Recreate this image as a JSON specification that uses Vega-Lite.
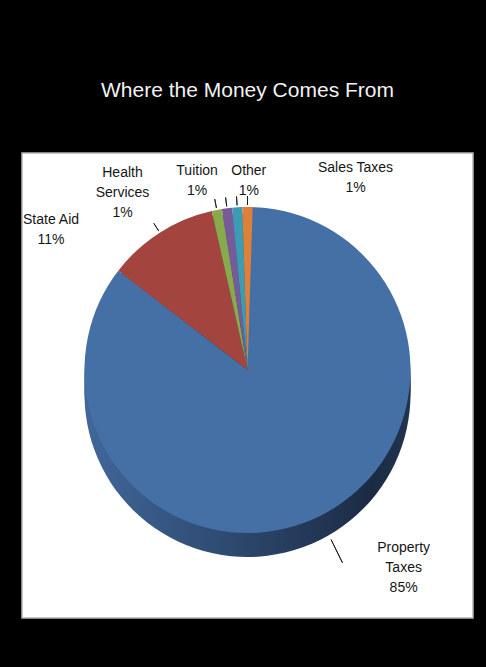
{
  "$schema": "https://vega.github.io/schema/vega-lite/v6.json",
  "width": 451,
  "height": 465,
  "autosize": "none",
  "padding": {"left": 22, "top": 153, "right": 13, "bottom": 49},
  "background": "#000000",
  "view": {"fill": "#ffffff", "stroke": "#b4b4b4", "strokeWidth": 1.5},
  "config": {
    "view": {"fill": "#ffffff", "stroke": "#b4b4b4", "strokeWidth": 1.5},
    "text": {"font": "Liberation Sans Narrow, Liberation Sans, Arial", "fontSize": 14, "lineHeight": 20, "color": "#161616"}
  },
  "title": {
    "text": "Where the Money Comes From",
    "color": "#f2f2f2",
    "font": "Liberation Sans",
    "fontSize": 21,
    "fontWeight": "normal",
    "anchor": "middle",
    "baseline": "alphabetic",
    "offset": 35
  },
  "data": {
    "values": [
      {"category": "Property Taxes", "value": 85},
      {"category": "State Aid", "value": 11},
      {"category": "Health Services", "value": 1},
      {"category": "Tuition", "value": 1},
      {"category": "Other", "value": 1},
      {"category": "Sales Taxes", "value": 1}
    ]
  },
  "transform": [
    {"window": [{"op": "row_number", "as": "idx"}]},
    {"stack": "value", "groupby": [], "sort": [{"field": "idx", "order": "ascending"}], "as": ["s0", "s1"]},
    {"calculate": "(datum.s0 + datum.s1) / 2", "as": "mid"},
    {"calculate": "datum.category + '|' + datum.value + '%'", "as": "lab"},
    {"calculate": "replace(datum.category, ' ', '|') + '|' + datum.value + '%'", "as": "lab2"}
  ],
  "layer": [
    {
      "mark": {"type": "arc", "radius": 163, "y": {"expr": "height * 0.4667"}, "yOffset": 24,
        "color": {"gradient": "linear", "x1": 0, "y1": 0, "x2": 1, "y2": 0, "stops": [{"offset": 0, "color": "#41679A"}, {"offset": 0.5, "color": "#2B466A"}, {"offset": 0.88, "color": "#1C2B44"}, {"offset": 1, "color": "#21344F"}]}},
      "encoding": {"theta": {"field": "s0", "type": "quantitative"}, "theta2": {"field": "s1"}}
    },
    {
      "mark": {"type": "arc", "radius": 163, "y": {"expr": "height * 0.4667"}, "yOffset": 18,
        "color": {"gradient": "linear", "x1": 0, "y1": 0, "x2": 1, "y2": 0, "stops": [{"offset": 0, "color": "#41679A"}, {"offset": 0.5, "color": "#2B466A"}, {"offset": 0.88, "color": "#1C2B44"}, {"offset": 1, "color": "#21344F"}]}},
      "encoding": {"theta": {"field": "s0", "type": "quantitative"}, "theta2": {"field": "s1"}}
    },
    {
      "mark": {"type": "arc", "radius": 163, "y": {"expr": "height * 0.4667"}, "yOffset": 12,
        "color": {"gradient": "linear", "x1": 0, "y1": 0, "x2": 1, "y2": 0, "stops": [{"offset": 0, "color": "#41679A"}, {"offset": 0.5, "color": "#2B466A"}, {"offset": 0.88, "color": "#1C2B44"}, {"offset": 1, "color": "#21344F"}]}},
      "encoding": {"theta": {"field": "s0", "type": "quantitative"}, "theta2": {"field": "s1"}}
    },
    {
      "mark": {"type": "arc", "radius": 163, "y": {"expr": "height * 0.4667"}, "yOffset": 6,
        "color": {"gradient": "linear", "x1": 0, "y1": 0, "x2": 1, "y2": 0, "stops": [{"offset": 0, "color": "#41679A"}, {"offset": 0.5, "color": "#2B466A"}, {"offset": 0.88, "color": "#1C2B44"}, {"offset": 1, "color": "#21344F"}]}},
      "encoding": {"theta": {"field": "s0", "type": "quantitative"}, "theta2": {"field": "s1"}}
    },
    {
      "mark": {"type": "arc", "radius": 163, "y": {"expr": "height * 0.4667"}},
      "encoding": {
        "theta": {"field": "s0", "type": "quantitative"},
        "theta2": {"field": "s1"},
        "color": {
          "field": "category",
          "type": "nominal",
          "scale": {
            "domain": ["Property Taxes", "State Aid", "Health Services", "Tuition", "Other", "Sales Taxes"],
            "range": ["#4570A6", "#A4443F", "#88AA4A", "#775A9A", "#3D9BB3", "#DE8038"]
          },
          "legend": null
        }
      }
    },
    {
      "transform": [{"filter": "datum.category != 'Property Taxes'"}],
      "mark": {"type": "arc", "y": {"expr": "height * 0.4667"}, "radius": 165, "radius2": 174, "stroke": "#1a1a1a", "strokeWidth": 0.9, "fillOpacity": 0},
      "encoding": {"theta": {"field": "mid", "type": "quantitative"}, "theta2": {"field": "mid"}}
    },
    {
      "transform": [{"filter": "datum.category == 'Property Taxes'"}],
      "mark": {"type": "arc", "y": {"expr": "height * 0.4667"}, "radius": 189, "radius2": 215, "stroke": "#1a1a1a", "strokeWidth": 0.9, "fillOpacity": 0},
      "encoding": {"theta": {"field": "mid", "type": "quantitative"}, "theta2": {"field": "mid"}}
    },
    {
      "transform": [{"filter": "datum.category == 'State Aid'"}],
      "mark": {"type": "text", "y": {"expr": "height * 0.4667"}, "radius": 170, "dx": -105, "dy": -7, "lineBreak": "|", "align": "center", "baseline": "middle"},
      "encoding": {"theta": {"field": "mid", "type": "quantitative"}, "text": {"field": "lab"}}
    },
    {
      "transform": [{"filter": "datum.category == 'Health Services'"}],
      "mark": {"type": "text", "y": {"expr": "height * 0.4667"}, "radius": 170, "dx": -93, "dy": -30, "lineBreak": "|", "align": "center", "baseline": "middle"},
      "encoding": {"theta": {"field": "mid", "type": "quantitative"}, "text": {"field": "lab2"}}
    },
    {
      "transform": [{"filter": "datum.category == 'Tuition'"}],
      "mark": {"type": "text", "y": {"expr": "height * 0.4667"}, "radius": 170, "dx": -29, "dy": -30, "lineBreak": "|", "align": "center", "baseline": "middle"},
      "encoding": {"theta": {"field": "mid", "type": "quantitative"}, "text": {"field": "lab"}}
    },
    {
      "transform": [{"filter": "datum.category == 'Other'"}],
      "mark": {"type": "text", "y": {"expr": "height * 0.4667"}, "radius": 170, "dx": 12, "dy": -29, "lineBreak": "|", "align": "center", "baseline": "middle"},
      "encoding": {"theta": {"field": "mid", "type": "quantitative"}, "text": {"field": "lab"}}
    },
    {
      "transform": [{"filter": "datum.category == 'Sales Taxes'"}],
      "mark": {"type": "text", "y": {"expr": "height * 0.4667"}, "radius": 170, "dx": 108, "dy": -32, "lineBreak": "|", "align": "center", "baseline": "middle"},
      "encoding": {"theta": {"field": "mid", "type": "quantitative"}, "text": {"field": "lab"}}
    },
    {
      "transform": [{"filter": "datum.category == 'Property Taxes'"}],
      "mark": {"type": "text", "y": {"expr": "height * 0.4667"}, "radius": 170, "dx": 81, "dy": 25, "lineBreak": "|", "align": "center", "baseline": "middle"},
      "encoding": {"theta": {"field": "mid", "type": "quantitative"}, "text": {"field": "lab2"}}
    }
  ]
}
